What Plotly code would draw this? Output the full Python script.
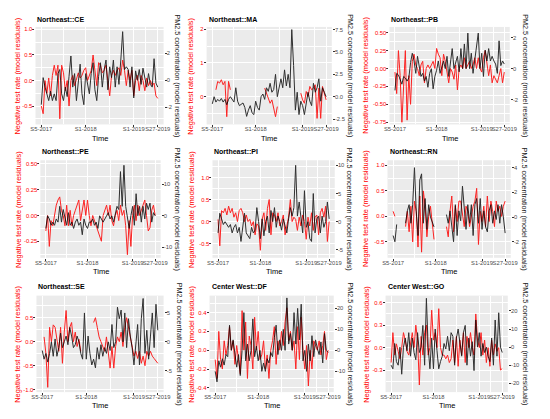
import math
import plotly.graph_objects as go

W, H = 550, 419
OFF = 8  # page body margin in front of the figure
FW, FH = W - OFF, H - OFF

# week index counted from S5-2017, one reading every second week
weeks = list(range(0, 127, 2))
tick_weeks = [0, 48, 100, 126]
tick_labels = ['S5-2017', 'S1-2018', 'S1-2019', 'S27-2019']
minor_weeks = [24, 74, 113]

titles = ['Northeast::CE', 'Northeast::MA', 'Northeast::PB',
          'Northeast::PE', 'Northeast::PI', 'Northeast::RN',
          'Northeast::SE', 'Center West::DF', 'Center West::GO']

N = None

# negative test rate residuals (left axis) / PM2.5 residuals (right axis)
ce_rate = [-0.5, -0.65, 0.0, -0.25, 0.05, -0.3, 0.1, 0.3,
           0.1, 0.3, -0.75, 0.3, 0.15, -0.2, 0.0, -0.5,
           0.0, 0.1, -0.1, 0.05, 0.15, 0.05, 0.1, 0.2,
           0.25, 0.0, 0.1, 0.2, 0.5, 0.2, -0.1, 0.35,
           0.3, 0.15, 0.2, 0.3, 0.0, -0.3, 0.1, 0.2,
           0.1, 0.2, 0.25, 0.1, 0.4, 0.2, -0.1, 0.2,
           0.0, 0.2, -0.3, 0.0, 0.1, -0.2, 0.1, 0.0,
           -0.2, 0.05, -0.1, 0.0, -0.1, -0.05, -0.3, -0.35]
ce_pm = [-1.8, 0.2, -0.5, -1.0, -1.5, -0.8, -1.5, -1.0,
         -1.5, 0.5, 0.8, -1.0, -1.5, -0.5, -1.2, 0.3,
         1.8, -0.5, 0.5, -1.5, -0.2, 1.2, -1.0, -1.8,
         0.5, -0.3, -1.0, 0.5, 1.3, -0.7, -1.5, 0.3,
         1.3, -0.5, 0.8, 1.5, -0.7, 1.0, 0.2, 1.5,
         -0.5, 1.0, -0.3, 1.5, 3.6, 0.8, 1.0, 0.8,
         -0.5, 1.0, -1.3, 0.7, 0.0, 0.8, -0.3, 0.9,
         0.3, -0.5, 0.5, -0.3, -0.5, 1.6, -0.2, -0.5]

ma_rate = [-0.55, N, 0.2, 0.45, 0.4, 0.5, 0.35, 0.45,
           -0.6, 0.45, 0.2, N, N, N, N, N,
           N, N, N, N, N, N, N, N,
           N, N, N, N, N, 0.25, 0.1, 0.0,
           -0.2, -0.1, -0.35, -0.6, -0.3, N, N, N,
           N, N, N, N, N, N, N, N,
           N, 0.1, -0.1, -0.2, 0.15, 0.0, 0.3, 0.2,
           0.25, 0.35, -0.65, 0.25, -0.65, 0.3, 0.1, -0.1]
ma_pm = [-0.8, 0.0, -0.6, -0.3, -0.5, -0.2, -0.6, -0.3,
         -0.9, -0.3, 0.0, -0.3, -0.6, 1.0, -0.5, -1.0,
         -0.8, -0.7, -1.2, -2.2, -1.5, -1.0, -1.8, -2.0,
         -0.5, -1.2, -1.5, 0.0, 0.3, -0.3, 1.0, 0.6,
         1.5, 0.5, 0.8, 2.5, 0.0, 1.2, 2.0, 1.0,
         3.0, 1.2, 2.5, 1.0, 7.5, 3.5, -1.5, 0.5,
         -2.0, -0.5, -1.0, -2.0, -0.5, 0.5, -0.5, -1.0,
         1.5, 0.5, 1.0, 2.0, -0.5, 1.0, 0.5, 0.0]

pb_rate = [-0.05, -0.35, 0.25, -0.1, -0.75, -0.2, 0.25, -0.72,
           -0.1, -0.5, 0.1, 0.2, 0.05, 0.0, -0.1, 0.05,
           0.1, -0.2, 0.0, 0.05, 0.0, 0.05, 0.1, 0.0,
           0.28, 0.2, 0.15, -0.1, 0.2, 0.1, -0.05, -0.2,
           0.0, -0.05, -0.15, 0.05, -0.3, 0.0, 0.05, 0.0,
           0.15, 0.0, 0.05, 0.1, 0.0, 0.05, 0.15, 0.0,
           0.15, 0.0, -0.05, 0.15, 0.25, 0.1, -0.1, 0.05,
           -0.2, -0.1, -0.15, -0.2, -0.1, 0.0, -0.2, -0.05]
pb_pm = [-1.4, -0.3, -0.4, -0.7, -1.0, -0.5, -0.6, -0.8,
         -0.6, 0.4, 1.0, 0.5, -0.3, 0.8, 0.0, -0.5,
         -0.3, -0.8, -0.5, -1.2, -0.3, 0.0, -1.3, -0.5,
         -0.1, 0.5, -0.3, 0.2, 0.5, 0.0, 0.8, -0.5,
         0.5, 1.3, 0.0, 0.5, 0.8, -0.2, 1.3, 0.0,
         1.6, 0.0, 2.3, 0.0, 1.0, -0.3, 0.5, 1.2,
         2.3, 0.0, 1.0, -0.5, 1.2, 0.5, 1.3, 0.5,
         0.8, 0.5, 0.3, -0.3, 1.8, 0.2, 0.5, 0.3]

pe_rate = [-0.15, 0.0, -0.3, -0.05, -0.1, 0.0, 0.1, 0.15,
           0.18, 0.05, 0.0, -0.1, 0.1, -0.1, 0.05, -0.1,
           0.0, 0.05, 0.1, 0.15, -0.05, 0.05, 0.15, 0.0,
           0.15, 0.0, -0.1, 0.0, -0.05, -0.1, -0.15, -0.2,
           -0.25, 0.0, 0.05, 0.1, 0.0, 0.1, -0.05, -0.1,
           0.0, 0.05, -0.05, 0.1, 0.0, 0.05, -0.1, -0.38,
           -0.05, -0.3, 0.0, 0.1, -0.05, 0.1, 0.0, 0.05,
           0.1, 0.15, 0.0, -0.15, -0.12, 0.05, 0.1, 0.0]
pe_pm = [-4, 0, -1, -3, -2, -3, -1, -2,
         3, -2, 2, -1, -3, 1, -3, -2,
         -4, -2, -1, -3, -2, -6, -1, -3,
         -4, -2, -2, -1, -3, -2, -4, 0,
         -1, -2, -1, 0, 1, -1, 0, -2,
         1, 3, 2, 14, 3, 16, 3, -1,
         -4, 0, 3, -3, 7, 0, 3, -2,
         3, -1, 4, 2, 4, -2, 1, 0]

pi_rate = [0.05, -0.55, 0.25, 0.2, 0.3, 0.15, 0.35, 0.2,
           0.3, 0.1, 0.2, 0.0, 0.25, 0.3, 0.2, 0.0,
           0.15, 0.0, 0.05, -0.1, 0.0, -0.3, -0.05, -0.1,
           -0.65, 0.05, 0.2, -0.2, 0.3, 0.5, -0.3, 0.2,
           0.15, 0.0, 0.2, -0.1, 0.0, 0.15, -0.3, -0.1,
           0.1, 0.5, 0.0, 0.1, 0.05, -0.2, 0.1, -0.1,
           0.15, 0.0, -0.4, 0.1, -0.1, 0.2, -0.2, 0.1,
           0.15, -0.3, 0.2, 0.3, 0.1, 0.35, -0.45, 0.0]
pi_pm = [-2, 1.5, 0.5, -0.5, 0, -0.5, -1, -0.5,
         -2, -1, -0.5, -2, -1, -3.5, -1, 1.5,
         -2, -2.5, -3, -1, -2, -1.5, 2.5, 0,
         -3, 0.5, -2.5, 0, 1, -2, 2, 0,
         2.5, -1, 1, 0, -1.5, 0.5, -1, -2,
         0.5, 2.5, 1, 2.5, 10, 1, 3.5, 0,
         -2, 5.5, -1, 0, -3, -3.5, 5, -2,
         0.5, 1, -2, 1, -1, 0, 3.5, 0.5]

rn_rate = [0.1, 0.0, N, N, N, N, N, -0.2,
           0.1, -0.3, 0.2, -0.5, 0.3, 0.1, -0.6, 0.4,
           -0.7, 0.5, 0.2, -0.4, 0.0, 0.2, -0.2, -0.45,
           N, N, N, N, N, N, -0.2, -0.4,
           0.1, 0.4, -0.3, 0.2, -0.1, 0.3, 0.3, 0.0,
           -0.2, 0.2, 0.1, -0.2, 0.0, 0.2, 0.3, 0.55,
           -0.55, 0.1, -0.1, 0.2, -0.2, 0.4, -0.1, 0.3,
           0.1, -0.2, 0.3, 0.1, 0.2, 0.0, 0.2, 0.3]
rn_pm = [-1.5, -2.0, -0.6, N, N, N, N, -0.5,
         0.5, 1.0, -0.5, 1.0, 4.0, 0.5, -1.5, 3.0,
         3.5, -0.5, 1.5, -1.0, 1.0, 0.0, -0.5, -0.8,
         N, N, N, N, N, N, 0.2, -0.5,
         0.5, -1.0, -2.0, 1.0, -1.5, 0.5, -0.3, 2.5,
         0.5, -1.0, 1.0, -0.5, 1.0, -1.5, 1.0, 1.5,
         -0.5, 1.5, -1.0, 0.5, -0.8, -1.2, 0.5, 1.0,
         -0.5, 0.5, -0.2, 1.0, -0.5, 1.0, 0.0, -1.3]

se_rate = [N, 0.1, -0.25, -0.95, 0.3, 0.0, 0.35, 0.3,
           0.0, -0.2, 0.3, -0.45, 0.2, 0.65, 0.0, 0.3,
           0.4, 0.0, 0.2, -0.1, 0.05, -0.2, N, N,
           N, N, N, N, 0.4, 0.5, 0.3, 0.1,
           0.0, -0.1, -0.2, 0.1, -0.3, -0.55, -0.1, -0.55,
           -0.1, 0.1, 0.0, 0.2, -0.1, 0.3, 0.5, 0.3,
           0.1, -0.1, -0.3, -0.2, -0.35, -0.2, -0.45, -0.3,
           -0.5, -0.2, -0.3, -0.2, -0.3, -0.35, -0.4, -0.45]
se_pm = [-1.5, -3, -2, -3.5, -2, 0, -2.5, 0.5,
         -2.5, -1, 1.5, -1, 0, 1, -0.5, 2.5,
         1.0, -1, -0.5, 1, 0, -2, -3, 5,
         -3, 1, -2, -4, -3, -4.5, -1, -3,
         -0.5, -2.5, -1, -2, 0, -1.5, 3, -1,
         0, 6, 4, 5.5, 0, 5, -1, 4,
         1, -1, -4, 0, 3, -4, 4, 7.5,
         -2, 2, -3, 1, 5, -1, 6.5, 2]

df_rate = [-0.1, -0.3, 0.2, -0.1, -0.2, 0.1, -0.05, 0.05,
           0.25, 0.0, 0.1, -0.15, 0.05, -0.1, -0.25, 0.42,
           0.0, 0.3, -0.3, 0.15, 0.05, -0.2, 0.35, 0.0,
           0.2, -0.1, -0.05, 0.1, -0.2, -0.05, -0.3, 0.0,
           0.1, 0.25, -0.15, 0.1, 0.0, 0.2, 0.05, 0.3,
           0.45, 0.1, 0.2, 0.0, 0.1, -0.2, 0.25, -0.1,
           0.35, 0.0, -0.2, 0.05, -0.38, 0.0, -0.2, 0.1,
           0.05, 0.0, 0.1, -0.05, 0.05, 0.2, -0.1, 0.0]
df_pm = [-10, -15, -5, -8, -4, -7, -2, -3,
         12, 0, 5, -3, -8, -2, -12, 0,
         18, -5, 3, -5, 0, 15, -3, 2,
         -5, 0, -10, -6, -10, -4, -6, -1,
         -3, 6, 12, -2, 5, 0, 10, 0,
         25, 3, 8, 0, 18, 3, 20, 5,
         22, -5, 0, -10, 3, -5, 7, -3,
         5, 1, -2, 4, -6, 8, 0, -1]

go_rate = [-0.2, 0.2, -0.1, 0.05, -0.05, -0.15, 0.0, 0.2,
           0.1, -0.05, -0.1, 0.05, 0.2, 0.0, 0.3, 0.1,
           -0.5, 0.15, -0.1, 0.2, 0.3, -0.1, 0.0, 0.5,
           0.1, 0.2, 0.0, 0.52, 0.0, -0.1, -0.1, -0.15,
           -0.1, -0.2, -0.15, 0.1, -0.2, 0.15, -0.25, 0.1,
           -0.1, 0.2, -0.2, 0.15, 0.0, 0.2, 0.0, -0.1,
           0.45, 0.1, 0.0, 0.2, -0.1, 0.1, -0.2, 0.0,
           -0.25, 0.1, -0.1, 0.05, -0.05, 0.0, -0.3, -0.28]
go_pm = [-10, -12, 2, -8, -10, 0, -15, 0,
         5, -2, 8, -5, 5, -3, -7, 8,
         -3, 0, 12, -10, 27, 0, -12, 5,
         -12, 10, -2, -12, -8, -5, 2, -1,
         6, -2, 8, 6, -10, 5, 10, 2,
         -5, 8, 12, -10, 5, -5, 3, -13,
         15, 0, 8, -5, 2, -3, 0, -5,
         -8, 5, -10, 15, -5, 19, 0, -3]

rates = [ce_rate, ma_rate, pb_rate, pe_rate, pi_rate, rn_rate, se_rate, df_rate, go_rate]
pms = [ce_pm, ma_pm, pb_pm, pe_pm, pi_pm, rn_pm, se_pm, df_pm, go_pm]

left_ranges = [(-0.86, 1.05), (-0.83, 2.07), (-0.78, 0.58),
               (-0.41, 0.535), (-0.82, 1.39), (-0.81, 1.1),
               (-1.05, 0.96), (-0.445, 0.58), (-0.595, 0.695)]
right_ranges = [(-3.26, 3.95), (-3.1, 7.8), (-3.6, 2.7),
                (-13.3, 17.6), (-6.4, 10.9), (-3.3, 4.6),
                (-8.7, 8.0), (-19.9, 26.1), (-24.9, 28.5)]
left_steps = [0.5, 1, 0.25, 0.25, 0.5, 0.5, 0.5, 0.2, 0.3]
left_dec = [1, 0, 2, 2, 1, 1, 1, 1, 1]
right_steps = [2, 2.5, 2, 10, 5, 2, 5, 10, 10]
right_dec = [0, 1, 0, 0, 0, 0, 0, 0, 0]

# panel boxes in page pixels: left, right, top, bottom
boxes = [(31, 162, 26, 124), (206, 334, 26, 124), (393, 516, 26, 124),
         (36, 159, 160, 258), (212, 337, 160, 258), (391, 517, 160, 258),
         (32, 162, 296, 393), (209, 336, 296, 393), (389, 514, 296, 393)]
ylab_x = [(13, 176), (190, 353), (369, 532),
          (13, 177), (190, 353), (368, 532),
          (13, 178), (191, 353), (370, 532)]
title_y = [19, 151, 287]
time_y = [138, 272, 406]


def ticks(rng, step, dec):
    lo = math.ceil(rng[0] / step - 1e-9)
    hi = math.floor(rng[1] / step + 1e-9)
    vals = [round(i * step, 6) for i in range(lo, hi + 1)]
    text = [f'{v:.{dec}f}' for v in vals]
    minor = [round((i + 0.5) * step, 6) for i in range(lo - 1, hi + 1)
             if rng[0] <= (i + 0.5) * step <= rng[1]]
    return vals, text, minor


def px(x):
    return (x - OFF) / FW


def py(y):
    return 1 - (y - OFF) / FH


RED = '#FF0000'
TICKFONT = dict(family='Liberation Sans', size=5.8, color='#4D4D4D')

fig = go.Figure()
layout = {}
annotations = []


def note(text, x, y, size, color, angle=0, xanchor='center'):
    annotations.append(dict(text=text, x=px(x), y=py(y), xref='paper', yref='paper',
                            textangle=angle, xanchor=xanchor, yanchor='middle',
                            showarrow=False,
                            font=dict(family='Liberation Sans', size=size, color=color)))


for k in range(9):
    n = k + 1
    xname = 'x' if n == 1 else f'x{n}'
    yl = 2 * n - 1
    yr = 2 * n
    ylname = 'y' if yl == 1 else f'y{yl}'
    yrname = f'y{yr}'
    l, r, t, b = boxes[k]

    fig.add_trace(go.Scatter(x=weeks, y=rates[k], mode='lines', xaxis=xname, yaxis=ylname,
                             line=dict(color=RED, width=1.0), opacity=0.85, showlegend=False))
    fig.add_trace(go.Scatter(x=weeks, y=pms[k], mode='lines', xaxis=xname, yaxis=yrname,
                             line=dict(color='black', width=1.0), opacity=0.8, showlegend=False))

    layout['xaxis' if n == 1 else f'xaxis{n}'] = dict(
        domain=[px(l), px(r)], anchor=ylname, range=[-6.3, 132.3],
        tickmode='array', tickvals=tick_weeks, ticktext=tick_labels, tickangle=0,
        showgrid=True, gridcolor='white', gridwidth=0.9, zeroline=False, showline=False,
        ticks='outside', ticklen=2, tickwidth=0.6, tickcolor='#333333',
        tickfont=TICKFONT, ticklabelstandoff=-3, fixedrange=True,
        minor=dict(tickmode='array', tickvals=minor_weeks, showgrid=True,
                   gridcolor='white', gridwidth=0.45, ticks=''))

    lv, lt, lm = ticks(left_ranges[k], left_steps[k], left_dec[k])
    rv, rt, _ = ticks(right_ranges[k], right_steps[k], right_dec[k])
    layout['yaxis' if yl == 1 else f'yaxis{yl}'] = dict(
        domain=[py(b), py(t)], anchor=xname, range=list(left_ranges[k]),
        tickmode='array', tickvals=lv, ticktext=lt,
        showgrid=True, gridcolor='white', gridwidth=0.9, zeroline=False, showline=False,
        ticks='outside', ticklen=2, tickwidth=0.6, tickcolor='#333333',
        tickfont=dict(TICKFONT, color=RED), ticklabelstandoff=-1, fixedrange=True,
        minor=dict(tickmode='array', tickvals=lm, showgrid=True,
                   gridcolor='white', gridwidth=0.45, ticks=''))
    layout[f'yaxis{yr}'] = dict(
        overlaying=ylname, side='right', anchor=xname, range=list(right_ranges[k]),
        tickmode='array', tickvals=rv, ticktext=rt,
        showgrid=False, zeroline=False, showline=False,
        ticks='outside', ticklen=2, tickwidth=0.6, tickcolor='#333333',
        tickfont=TICKFONT, ticklabelstandoff=-1, fixedrange=True)

    row = k // 3
    note(f'<b>{titles[k]}</b>', l, title_y[row], 7.0, 'black', xanchor='left')
    note('Time', (l + r) / 2, time_y[row], 7.5, 'black')
    note('Negative test rate (model residuals)', ylab_x[k][0], (t + b) / 2, 7.4, RED, angle=-90)
    note('PM2.5 concentration (model residuals)', ylab_x[k][1], (t + b) / 2, 7.2, '#1A1A1A', angle=90)

fig.update_layout(width=FW, height=FH, margin=dict(l=0, r=0, t=0, b=0),
                  paper_bgcolor='white', plot_bgcolor='#EBEBEB',
                  annotations=annotations, **layout)

fig.write_html("out.html")
